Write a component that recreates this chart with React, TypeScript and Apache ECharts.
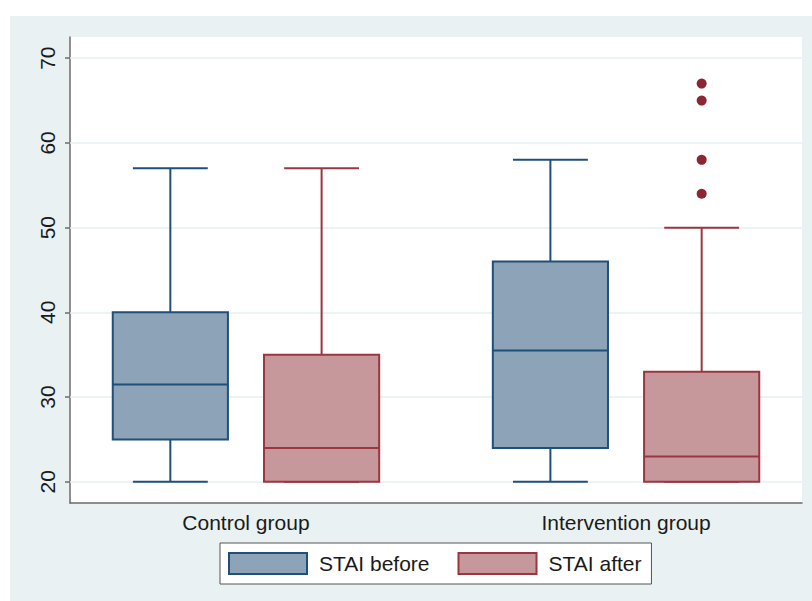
import React, { useEffect, useRef } from "react";
import * as echarts from "echarts";

const categories = ["Control group", "Intervention group"];
const categoryPositions = [0, 1];
// [min, Q1, median, Q3, max]
const staiBefore = [
  [20, 25, 31.5, 40, 57],
  [20, 24, 35.5, 46, 58],
];
const staiAfter = [
  [20, 20, 24, 35, 57],
  [20, 20, 23, 33, 50],
];
// [categoryIndex, value]
const afterOutliers = [
  [1, 54],
  [1, 58],
  [1, 65],
  [1, 67],
];
const yTicks = [20, 30, 40, 50, 60, 70];

const BEFORE_LINE = "#1f4f7b";
const BEFORE_FILL = "#8da3b8";
const AFTER_LINE = "#9b3640";
const AFTER_FILL = "#c7989b";
const OUTLIER = "#8c2632";

const OFFSET = 0.199;
const BOX_W = 0.303;
const CAP_W = 0.197;

function boxRenderer(offset: number, lineColor: string, fillColor: string) {
  return (params: any, api: any) => {
    const cat = api.value(0);
    const vmin = api.value(1);
    const q1 = api.value(2);
    const med = api.value(3);
    const q3 = api.value(4);
    const vmax = api.value(5);
    const unit = api.size([1, 0])[0];
    const cx = api.coord([cat + offset, med])[0];
    const bw = unit * BOX_W;
    const cw = unit * CAP_W;
    const y = (v: number) => api.coord([cat, v])[1];
    const ls = { stroke: lineColor, lineWidth: 2 };
    return {
      type: "group",
      children: [
        { type: "line", shape: { x1: cx, y1: y(q3), x2: cx, y2: y(vmax) }, style: ls },
        { type: "line", shape: { x1: cx, y1: y(q1), x2: cx, y2: y(vmin) }, style: ls },
        { type: "line", shape: { x1: cx - cw / 2, y1: y(vmax), x2: cx + cw / 2, y2: y(vmax) }, style: ls },
        { type: "line", shape: { x1: cx - cw / 2, y1: y(vmin), x2: cx + cw / 2, y2: y(vmin) }, style: ls },
        {
          type: "rect",
          shape: { x: cx - bw / 2, y: y(q3), width: bw, height: y(q1) - y(q3) },
          style: { fill: fillColor, stroke: lineColor, lineWidth: 2 },
        },
        { type: "line", shape: { x1: cx - bw / 2, y1: y(med), x2: cx + bw / 2, y2: y(med) }, style: ls },
      ],
    };
  };
}

export default function App() {
  const ref = useRef<HTMLDivElement>(null);
  useEffect(() => {
    if (!ref.current) return;
    const chart = echarts.init(ref.current, undefined, { renderer: "svg" });
    const font = "'Liberation Sans', Arial, sans-serif";
    chart.setOption({
      animation: false,
      backgroundColor: "#ffffff",
      graphic: [
        {
          type: "rect",
          z: -10,
          silent: true,
          shape: { x: 10, y: 16, width: 802, height: 585 },
          style: { fill: "#eaf1f3" },
        },
      ],
      legend: {
        left: 220,
        top: 543,
        padding: [9, 10, 9, 8],
        itemWidth: 78,
        itemHeight: 21,
        itemGap: 28,
        backgroundColor: "#ffffff",
        borderColor: "#555555",
        borderWidth: 1,
        textStyle: { fontSize: 21, color: "#1a1a1a", fontFamily: font, padding: [0, 0, 0, 7] },
        data: [
          { name: "STAI before", icon: "rect", itemStyle: { color: BEFORE_FILL, borderColor: BEFORE_LINE, borderWidth: 2 } },
          { name: "STAI after", icon: "rect", itemStyle: { color: AFTER_FILL, borderColor: AFTER_LINE, borderWidth: 2 } },
        ],
      },
      grid: {
        left: 70,
        right: 10,
        top: 37,
        bottom: 98,
        show: true,
        backgroundColor: "#ffffff",
        borderWidth: 0,
      },
      xAxis: {
        type: "value",
        min: -0.463,
        max: 1.463,
        axisLine: { show: true, onZero: false, lineStyle: { color: "#6b6b6b", width: 1.5 } },
        axisTick: { show: false },
        axisLabel: {
          customValues: categoryPositions,
          formatter: (v: number) => categories[Math.round(v)] ?? "",
          fontSize: 21,
          color: "#1a1a1a",
          fontFamily: font,
          margin: 9,
        },
        splitLine: { show: false },
      },
      yAxis: {
        type: "value",
        min: 17.5,
        max: 72.5,
        axisLine: { show: true, onZero: false, lineStyle: { color: "#6b6b6b", width: 1.5 } },
        axisTick: { show: true, length: 5, customValues: yTicks, lineStyle: { color: "#6b6b6b", width: 1.5 } },
        axisLabel: {
          customValues: yTicks,
          rotate: 90,
          fontSize: 21,
          color: "#1a1a1a",
          fontFamily: font,
          margin: 12,
        },
        splitLine: { show: false },
      },
      series: [
        {
          name: "gridlines",
          type: "line",
          data: [],
          silent: true,
          z: 1,
          markLine: {
            silent: true,
            z: 1,
            symbol: "none",
            label: { show: false },
            lineStyle: { color: "#e6eff1", width: 1.5, type: "solid" },
            data: yTicks.map((v) => ({ yAxis: v })),
          },
        },
        {
          name: "STAI before",
          type: "custom",
          renderItem: boxRenderer(-OFFSET, BEFORE_LINE, BEFORE_FILL),
          itemStyle: { color: BEFORE_FILL },
          encode: { x: 0, y: [1, 2, 3, 4, 5] },
          data: staiBefore.map((d, i) => [categoryPositions[i], ...d]),
          z: 3,
        },
        {
          name: "STAI after",
          type: "custom",
          renderItem: boxRenderer(OFFSET, AFTER_LINE, AFTER_FILL),
          itemStyle: { color: AFTER_FILL },
          encode: { x: 0, y: [1, 2, 3, 4, 5] },
          data: staiAfter.map((d, i) => [categoryPositions[i], ...d]),
          z: 3,
        },
        {
          name: "outliers",
          type: "custom",
          renderItem: (params: any, api: any) => {
            const cat = api.value(0);
            const v = api.value(1);
            const p = api.coord([cat + OFFSET, v]);
            return {
              type: "circle",
              shape: { cx: p[0], cy: p[1], r: 5 },
              style: { fill: OUTLIER },
            };
          },
          encode: { x: 0, y: 1 },
          data: afterOutliers.map((d) => [categoryPositions[d[0]], d[1]]),
          z: 4,
        },
      ],
    });
    return () => chart.dispose();
  }, []);
  return (
    <div
      ref={ref}
      style={{ position: "fixed", left: 0, top: 0, width: 812, height: 601 }}
    />
  );
}
